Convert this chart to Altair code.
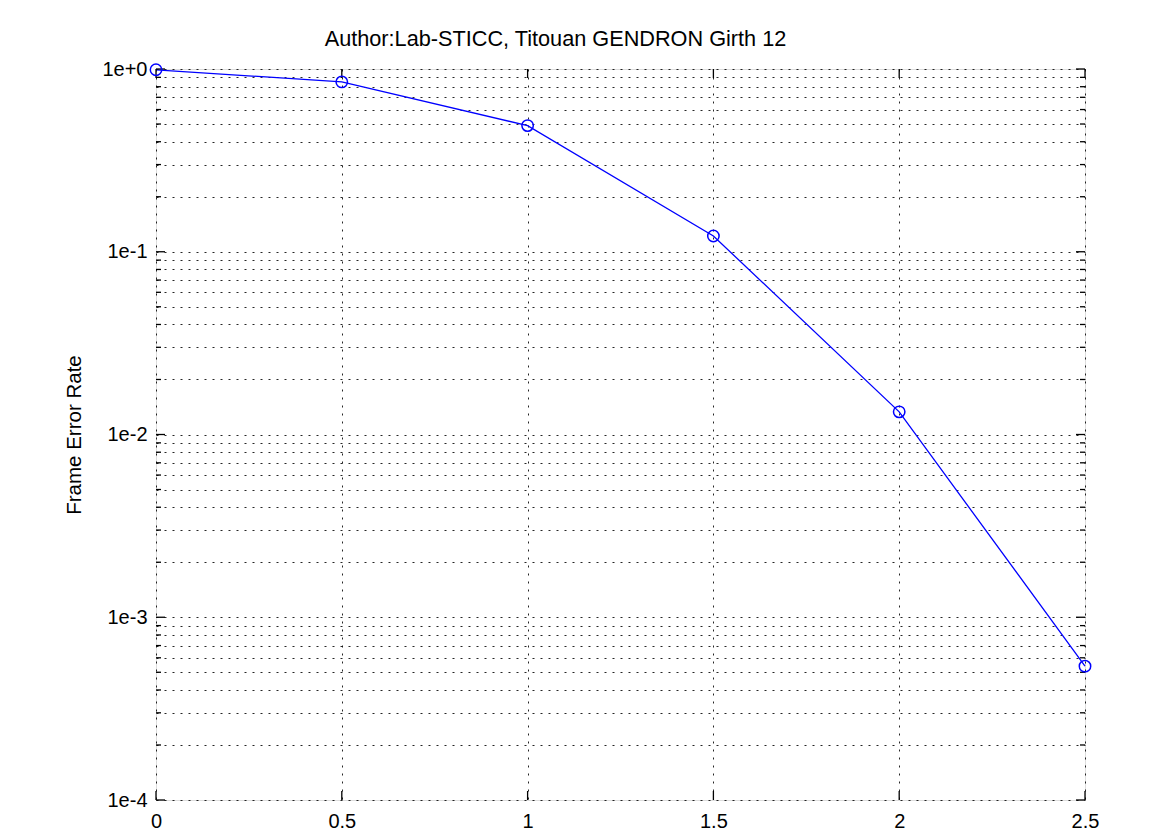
import altair as alt
import pandas as pd

# Data
snr = [0.0, 0.5, 1.0, 1.5, 2.0, 2.5]
fer = [0.99, 0.85, 0.49, 0.122, 0.0133, 0.00054]

x_ticks = [0, 0.5, 1, 1.5, 2, 2.5]
decades = [1e-4, 1e-3, 1e-2, 1e-1, 1e0]
y_grid = [m * d for d in [1e-4, 1e-3, 1e-2, 1e-1] for m in range(1, 10)] + [1e0]
y_minor = [v for v in y_grid if all(abs(v - d) / d > 1e-9 for d in decades)]

W, H = 929, 731
FONT = "Liberation Sans"

df = pd.DataFrame({"snr": snr, "fer": fer})
ymaj = pd.DataFrame({"v": decades})
ymin = pd.DataFrame({"v": y_minor})
xt = pd.DataFrame({"x": x_ticks})

xscale = alt.Scale(domain=[0, 2.5], nice=False, zero=False)
yscale = alt.Scale(type="log", domain=[1e-4, 1], nice=False)

xenc = alt.X("snr:Q", scale=xscale, title=None,
             axis=alt.Axis(values=x_ticks, grid=True, gridDash=[2, 6], gridColor="#000000",
                           gridOpacity=0.85, domain=False, ticks=False, labelPadding=11,
                           labelFontSize=20, labelFont=FONT, labelColor="#000000",
                           labelExpr="datum.value == 0 ? '0' : format(datum.value, '~g')",
                           labelFlush=False))
yenc = alt.Y("fer:Q", scale=yscale, title="Frame Error Rate",
             axis=alt.Axis(values=y_grid, grid=True, gridDash=[2, 6], gridColor="#000000",
                           gridOpacity=0.85, domain=False, ticks=False, labelPadding=9,
                           labelFontSize=20, labelFont=FONT, labelColor="#000000",
                           labelExpr="abs(log(datum.value)/log(10) - round(log(datum.value)/log(10))) < 1e-6 ? format(datum.value, '.0e') : ''",
                           labelFlush=False, labelOverlap=False,
                           titleFont=FONT, titleFontSize=20.5, titleFontWeight="normal",
                           titleColor="#000000", titleX=-82, titleY=H / 2,
                           titleAngle=-90, titleAlign="center", titleBaseline="middle"))

base = alt.Chart(df)
line = base.mark_line(color="#0000ff", strokeWidth=1.3).encode(x=xenc, y=yenc)
pts = base.mark_point(shape="circle", filled=False, color="#0000ff", size=130,
                      strokeWidth=1.5, opacity=1).encode(x="snr:Q", y="fer:Q")

tick_col = "#000000"
ymaj_l = alt.Chart(ymaj).mark_rule(color=tick_col, strokeWidth=1.3).encode(
    y=alt.Y("v:Q", scale=yscale), x=alt.value(0), x2=alt.value(9))
ymaj_r = alt.Chart(ymaj).mark_rule(color=tick_col, strokeWidth=1.3).encode(
    y=alt.Y("v:Q", scale=yscale), x=alt.value(W - 9), x2=alt.value(W))
ymin_l = alt.Chart(ymin).mark_rule(color=tick_col, strokeWidth=1.3).encode(
    y=alt.Y("v:Q", scale=yscale), x=alt.value(0), x2=alt.value(5))
ymin_r = alt.Chart(ymin).mark_rule(color=tick_col, strokeWidth=1.3).encode(
    y=alt.Y("v:Q", scale=yscale), x=alt.value(W - 5), x2=alt.value(W))
xt_b = alt.Chart(xt).mark_rule(color=tick_col, strokeWidth=1.3).encode(
    x=alt.X("x:Q", scale=xscale), y=alt.value(H - 9), y2=alt.value(H))
xt_t = alt.Chart(xt).mark_rule(color=tick_col, strokeWidth=1.3).encode(
    x=alt.X("x:Q", scale=xscale), y=alt.value(0), y2=alt.value(9))

chart = alt.layer(line, ymaj_l, ymaj_r, ymin_l, ymin_r, xt_b, xt_t, pts).properties(
    width=W, height=H,
    title=alt.TitleParams("Author:Lab-STICC, Titouan GENDRON Girth 12", font=FONT,
                          fontSize=21.7, fontWeight="normal", color="#000000",
                          anchor="middle", dx=-65, offset=8),
    autosize=alt.AutoSizeParams(type="none"),
    padding={"left": 148, "top": 61, "right": 30, "bottom": 34},
).configure_view(stroke="#000000", strokeWidth=1.5).configure(background="white")

chart.save("out.html", embed_options={"renderer": "svg", "actions": False})
